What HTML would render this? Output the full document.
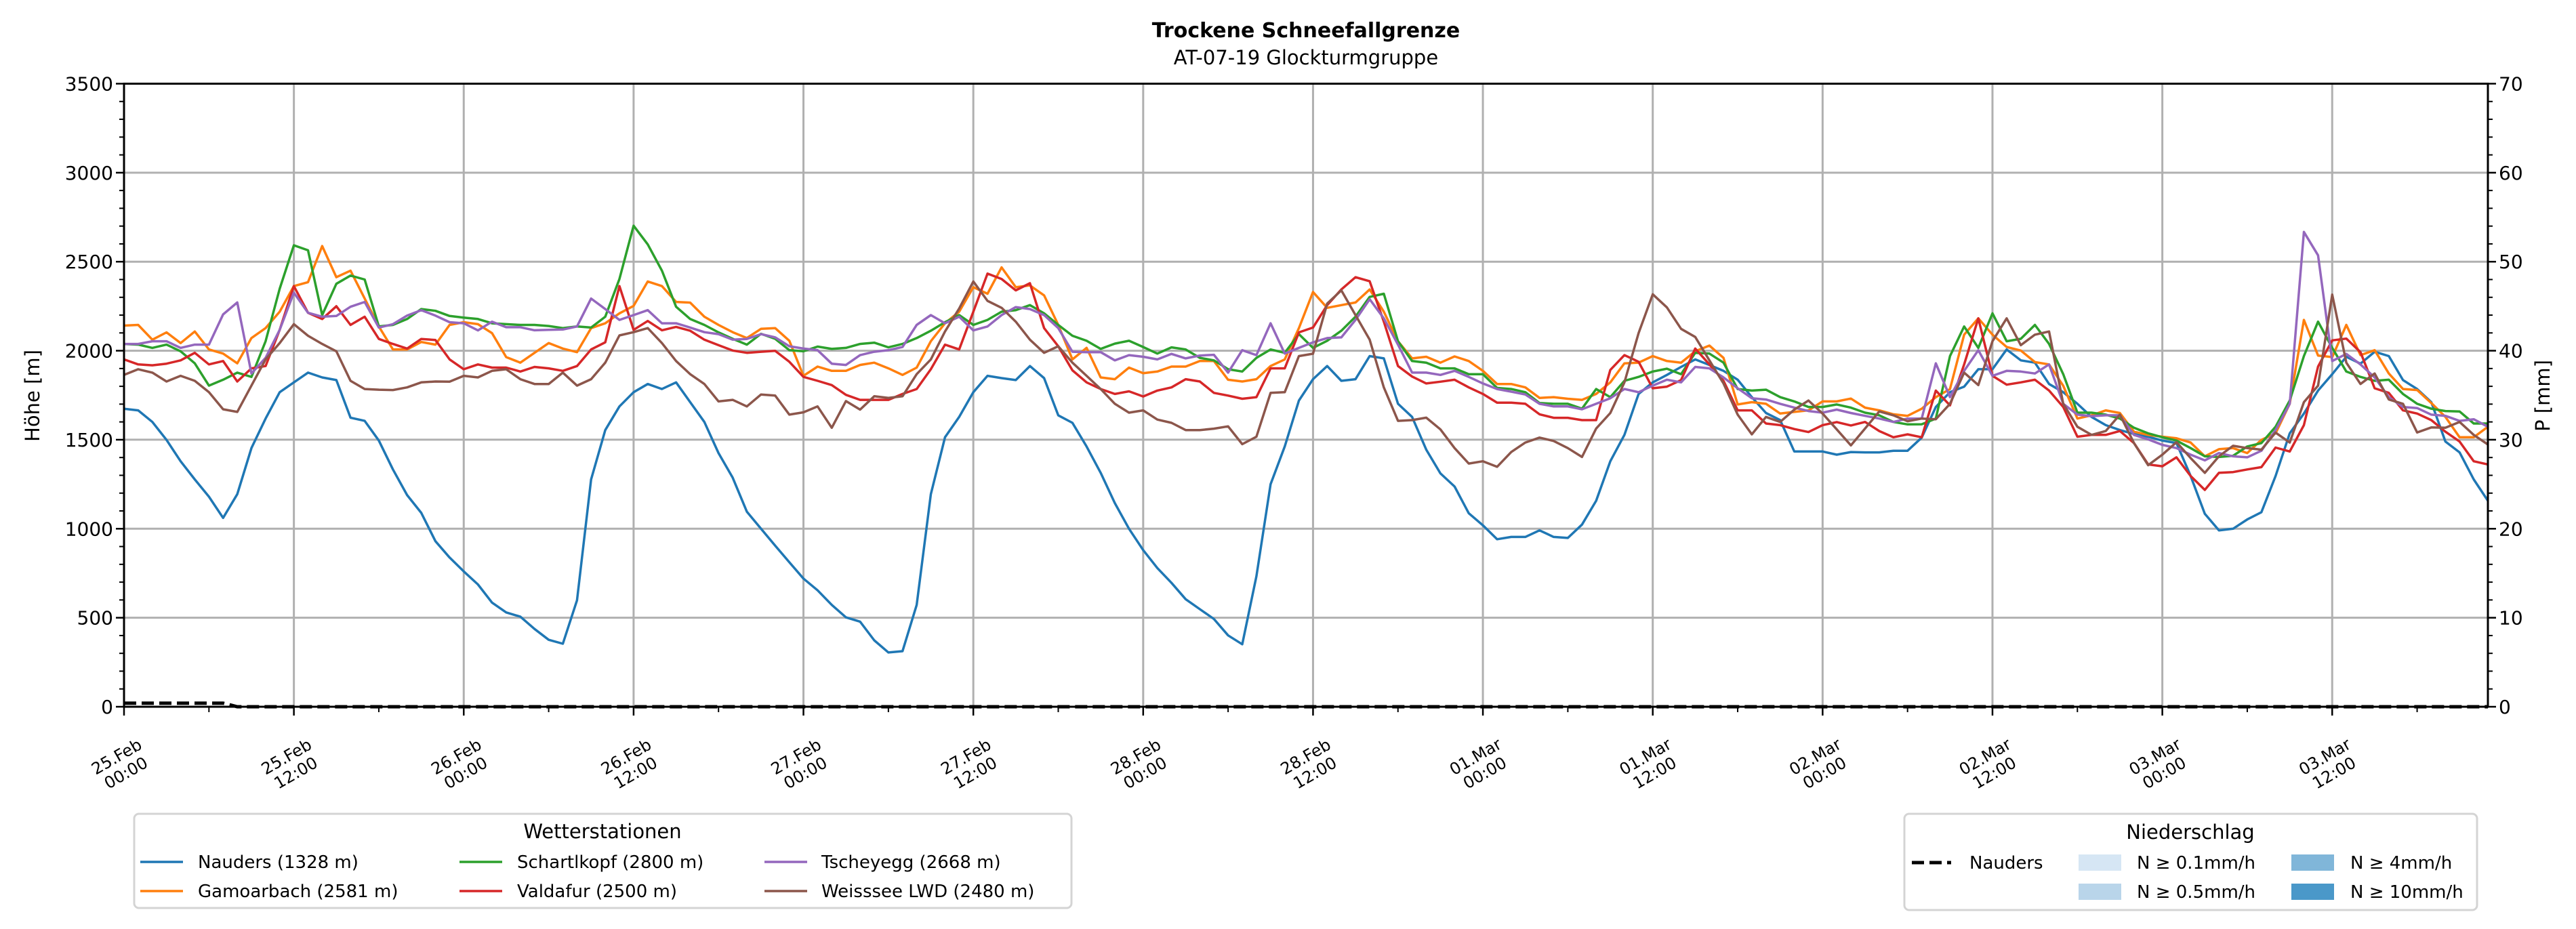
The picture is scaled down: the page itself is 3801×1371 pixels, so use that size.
<!DOCTYPE html>
<html><head><meta charset="utf-8">
<style>
html,body{margin:0;padding:0;background:#fff;}
svg{display:block;font-family:"DejaVu Sans","Liberation Sans",sans-serif;}
</style></head>
<body>
<svg id="chart" width="3801" height="1371" viewBox="0 0 3801 1371" xmlns="http://www.w3.org/2000/svg">
<rect width="3801" height="1371" fill="#fff"/>
<text x="1927" y="55" text-anchor="middle" font-size="30" font-weight="bold">Trockene Schneefallgrenze</text>
<text x="1927" y="95" text-anchor="middle" font-size="29">AT-07-19 Glockturmgruppe</text>
<g id="grid"></g>
<g id="series"></g>
<g id="axes"></g>
<text transform="translate(58,584) rotate(-90)" text-anchor="middle" font-size="29">Höhe [m]</text>
<text transform="translate(3762,584) rotate(-90)" text-anchor="middle" font-size="29">P [mm]</text>

<g>
<rect x="198" y="1201" width="1383" height="139" rx="7" fill="#fff" stroke="#d4d4d4" stroke-width="3"/>
<text x="889" y="1237" text-anchor="middle" font-size="29">Wetterstationen</text>
<g><line x1="207" y1="1272" x2="270" y2="1272" stroke="#1f77b4" stroke-width="3.5"/><text x="292" y="1281" font-size="26">Nauders (1328 m)</text></g>
<g><line x1="207" y1="1315" x2="270" y2="1315" stroke="#ff7f0e" stroke-width="3.5"/><text x="292" y="1324" font-size="26">Gamoarbach (2581 m)</text></g>
<g><line x1="678" y1="1272" x2="741" y2="1272" stroke="#2ca02c" stroke-width="3.5"/><text x="763" y="1281" font-size="26">Schartlkopf (2800 m)</text></g>
<g><line x1="678" y1="1315" x2="741" y2="1315" stroke="#d62728" stroke-width="3.5"/><text x="763" y="1324" font-size="26">Valdafur (2500 m)</text></g>
<g><line x1="1128" y1="1272" x2="1191" y2="1272" stroke="#9467bd" stroke-width="3.5"/><text x="1212" y="1281" font-size="26">Tscheyegg (2668 m)</text></g>
<g><line x1="1128" y1="1315" x2="1191" y2="1315" stroke="#8c564b" stroke-width="3.5"/><text x="1212" y="1324" font-size="26">Weisssee LWD (2480 m)</text></g>
</g>

<g>
<rect x="2810" y="1201" width="845" height="142" rx="7" fill="#fff" stroke="#d4d4d4" stroke-width="3"/>
<text x="3232" y="1238" text-anchor="middle" font-size="29">Niederschlag</text>
<g><line x1="2821" y1="1273" x2="2879" y2="1273" stroke="#000" stroke-width="5" stroke-dasharray="18,8"/><text x="2906" y="1282" font-size="26">Nauders</text></g>
<g><rect x="3067" y="1261" width="63" height="24" fill="#d6e6f4"/><text x="3153" y="1282" font-size="26">N ≥ 0.1mm/h</text></g>
<g><rect x="3067" y="1304" width="63" height="24" fill="#b9d5ea"/><text x="3153" y="1325" font-size="26">N ≥ 0.5mm/h</text></g>
<g><rect x="3381" y="1261" width="63" height="24" fill="#80b6d9"/><text x="3468" y="1282" font-size="26">N ≥ 4mm/h</text></g>
<g><rect x="3381" y="1304" width="63" height="24" fill="#4a98c9"/><text x="3468" y="1325" font-size="26">N ≥ 10mm/h</text></g>
</g>
</svg>
<script>
const xTickLabels = [["25.Feb","00:00"],["25.Feb","12:00"],["26.Feb","00:00"],["26.Feb","12:00"],["27.Feb","00:00"],["27.Feb","12:00"],["28.Feb","00:00"],["28.Feb","12:00"],["01.Mar","00:00"],["01.Mar","12:00"],["02.Mar","00:00"],["02.Mar","12:00"],["03.Mar","00:00"],["03.Mar","12:00"]];
const yTicks = [0,500,1000,1500,2000,2500,3000,3500];
const y2Ticks = [0,10,20,30,40,50,60,70];
const stationNames = ["Nauders","Gamoarbach","Schartlkopf","Valdafur","Tscheyegg","Weisssee LWD"];
const nauders = [1674,1665,1600,1499,1379,1277,1180,1061,1194,1453,1619,1767,1822,1877,1850,1835,1624,1606,1495,1333,1189,1089,930,838,760,687,585,530,506,437,376,354,598,1277,1554,1687,1767,1813,1785,1822,1711,1600,1425,1287,
1096,1000,905,812,720,654,572,502,478,373,305,312,572,1194,1514,1628,1767,1859,1846,1835,1914,1846,1637,1595,1462,1314,1144,1000,880,779,696,604,548,493,401,351,733,1250,1462,1720,1840,1914,
1831,1840,1970,1957,1702,1628,1444,1311,1237,1087,1019,941,954,954,991,954,948,1023,1157,1379,1527,1757,1822,1864,1909,1951,1920,1887,1837,1739,1650,1610,1434,1434,1434,1416,1431,1429,1429,1438,1438,1512,
1684,1767,1798,1896,1896,2007,1946,1933,1813,1767,1702,1628,1582,1554,1532,1517,1495,1481,1296,1084,991,1000,1052,1093,1296,1536,1647,1776,1868,1966,1927,1994,1970,1835,1785,1711,1490,1429,1277,1157];
const gamoarbach = [2141,2145,2062,2103,2043,2108,2007,1984,1929,2071,2127,2219,2363,2385,2588,2413,2450,2293,2136,2007,2007,2049,2034,2145,2160,2149,2099,1964,1933,1988,2043,2012,1992,2127,2154,2210,2252,2389,2363,2274,2270,2191,2145,2104,
2071,2123,2127,2056,1859,1911,1887,1887,1920,1933,1901,1864,1905,2053,2154,2219,2357,2320,2468,2357,2367,2311,2145,1951,2016,1850,1840,1905,1874,1883,1911,1911,1942,1942,1837,1827,1840,1914,1951,2127,2330,2241,
2256,2271,2344,2219,2053,1957,1966,1933,1968,1942,1887,1813,1813,1794,1735,1739,1730,1724,1757,1822,1929,1933,1970,1942,1933,1997,2029,1960,1698,1711,1702,1647,1656,1665,1715,1715,1731,1680,1665,1643,1634,1674,
1739,1785,2090,2182,2090,2021,2001,1936,1923,1803,1619,1637,1665,1650,1545,1527,1517,1508,1484,1407,1447,1453,1425,1499,1536,1702,2173,1973,1964,2145,1975,2003,1872,1785,1779,1706,1628,1514,1514,1573];
const schartlkopf = [2038,2034,2016,2034,1997,1929,1804,1837,1877,1853,2053,2348,2592,2564,2200,2376,2422,2400,2136,2145,2178,2234,2224,2195,2186,2178,2154,2149,2145,2145,2139,2127,2136,2130,2191,2403,2702,2597,2450,2247,2178,2145,2103,2067,
2034,2095,2067,2003,1997,2023,2010,2016,2038,2045,2019,2038,2071,2112,2160,2200,2145,2173,2219,2228,2256,2210,2145,2084,2056,2010,2040,2056,2021,1984,2019,2007,1960,1946,1896,1883,1960,2007,1988,2093,2016,2056,
2112,2191,2302,2320,2053,1942,1933,1901,1901,1868,1868,1791,1785,1767,1706,1702,1702,1674,1785,1739,1831,1853,1883,1899,1868,1988,1984,1933,1785,1776,1781,1739,1715,1684,1684,1698,1680,1652,1637,1600,1586,1587,
1619,1970,2136,2016,2210,2053,2067,2145,2038,1868,1652,1652,1641,1619,1567,1536,1514,1495,1453,1407,1403,1410,1462,1481,1573,1720,1970,2163,2016,1883,1853,1831,1837,1757,1702,1674,1661,1659,1591,1591];
const valdafur = [1951,1923,1918,1927,1946,1988,1923,1942,1827,1901,1914,2117,2363,2213,2178,2250,2145,2191,2066,2038,2012,2066,2060,1951,1896,1923,1905,1905,1883,1909,1901,1887,1914,2007,2047,2363,2117,2167,2115,2134,2112,2062,2031,2001,
1988,1994,1999,1938,1853,1831,1807,1752,1724,1724,1724,1757,1785,1896,2034,2007,2219,2433,2403,2339,2379,2127,2025,1890,1822,1785,1757,1772,1743,1776,1794,1840,1827,1763,1748,1730,1739,1901,1901,2103,2130,2256,
2344,2413,2390,2163,1914,1855,1816,1826,1837,1794,1757,1708,1708,1702,1643,1623,1623,1610,1610,1892,1975,1938,1789,1798,1835,2012,1923,1831,1665,1665,1591,1582,1560,1543,1582,1599,1580,1600,1549,1514,1530,1514,
1776,1693,1923,2182,1859,1809,1822,1837,1776,1684,1517,1527,1527,1549,1481,1361,1351,1401,1296,1218,1314,1318,1333,1346,1456,1434,1582,1911,2058,2068,1992,1789,1763,1665,1647,1610,1545,1490,1379,1361];
const tscheyegg = [2038,2038,2053,2053,2016,2034,2034,2204,2271,1872,1960,2117,2326,2213,2191,2195,2247,2274,2130,2149,2197,2228,2197,2160,2154,2114,2163,2132,2132,2115,2117,2119,2136,2293,2234,2173,2200,2228,2154,2154,2130,2104,2093,2062,
2066,2093,2075,2025,2012,2003,1927,1920,1975,1994,2003,2021,2145,2200,2154,2191,2114,2136,2200,2245,2234,2200,2127,1994,1992,1992,1946,1975,1966,1951,1982,1957,1973,1977,1877,2003,1975,2154,1984,2016,2047,2071,
2075,2173,2289,2182,2034,1877,1877,1864,1887,1853,1816,1785,1770,1754,1702,1687,1687,1671,1702,1733,1785,1767,1804,1837,1822,1909,1901,1850,1789,1733,1726,1702,1680,1661,1652,1669,1650,1634,1619,1600,1619,1619,
1929,1739,1887,2003,1859,1887,1883,1872,1923,1702,1641,1632,1637,1637,1527,1502,1471,1453,1416,1384,1425,1407,1401,1438,1554,1702,2667,2536,1942,1982,1923,1850,1739,1684,1678,1641,1634,1606,1615,1573];
const weisssee = [1864,1896,1877,1827,1859,1831,1767,1671,1656,1804,1951,2043,2149,2084,2038,1997,1831,1785,1781,1779,1794,1822,1827,1826,1859,1850,1887,1896,1840,1813,1813,1877,1804,1840,1933,2086,2104,2127,2043,1942,1868,1813,1715,1724,
1687,1754,1748,1641,1654,1687,1567,1717,1669,1744,1735,1744,1868,1951,2108,2237,2389,2280,2241,2163,2062,1988,2025,1933,1859,1785,1702,1652,1665,1613,1595,1554,1554,1562,1575,1475,1517,1763,1767,1970,1983,2265,
2339,2200,2062,1794,1606,1610,1624,1558,1453,1366,1379,1348,1431,1484,1512,1493,1453,1403,1563,1650,1822,2099,2317,2243,2123,2077,1946,1816,1641,1530,1628,1600,1669,1720,1647,1558,1468,1563,1659,1637,1604,1619,
1615,1702,1877,1807,2053,2182,2031,2090,2108,1702,1573,1527,1549,1641,1481,1357,1416,1486,1397,1314,1407,1466,1453,1444,1540,1484,1711,1804,2315,1933,1813,1872,1726,1702,1541,1569,1567,1600,1527,1473];
const precipNauders = [0.4,0.4,0.4,0.4,0.4,0.4,0.4,0.4,0,0,0,0,0,0,0,0,0,0,0,0,0,0,0,0,0,0,0,0,0,0,0,0,0,0,0,0,0,0,0,0,0,0,0,0,0,0,0,0,0,0,0,0,0,0,0,0,0,0,0,0,0,0,0,0,0,0,0,0,0,0,0,0,0,0,0,0,0,0,0,0,0,0,0,0,0,0,0,0,0,0,0,0,0,0,0,0,0,0,0,0,0,0,0,0,0,0,0,0,0,0,0,0,0,0,0,0,0,0,0,0,0,0,0,0,0,0,0,0,0,0,0,0,0,0,0,0,0,0,0,0,0,0,0,0,0,0,0,0,0,0,0,0,0,0,0,0,0,0,0,0,0,0,0,0,0,0,0,0];

const NS="http://www.w3.org/2000/svg";
const X0=183, X1=3671, Y0=1043, YT=123.5, HMAX=167;
function xS(h){return X0 + h*(X1-X0)/HMAX;}
function yS(v){return Y0 - v*(Y0-YT)/3500;}
function y2S(v){return Y0 - v*(Y0-YT)/70;}
function mk(tag, attrs, parent){const e=document.createElementNS(NS,tag);for(const k in attrs)e.setAttribute(k,attrs[k]);parent.appendChild(e);return e;}
const grid=document.getElementById('grid'), axes=document.getElementById('axes'), ser=document.getElementById('series');

yTicks.forEach(function(v){
  const g=mk('line',{x1:X0,x2:X1,y1:yS(v),y2:yS(v),stroke:'#b0b0b0','stroke-width':3},grid);
  
  
  const t=mk('line',{x1:X0-12,x2:X0,y1:yS(v),y2:yS(v),stroke:'#000','stroke-width':2.5},axes);
  
  
  const l=mk('text',{x:X0-16,y:yS(v)+10,'text-anchor':'end','font-size':28},axes);
  l.textContent=String(v);
  
  
});
for(let v=0; v<=3500; v+=100){ if(v%500===0) continue;
  const t=mk('line',{x1:X0-7,x2:X0,y1:yS(v),y2:yS(v),stroke:'#000','stroke-width':2},axes);
  
  
}
y2Ticks.forEach(function(v){
  const t=mk('line',{x1:X1,x2:X1+12,y1:y2S(v),y2:y2S(v),stroke:'#000','stroke-width':2.5},axes);
  
  
  const l=mk('text',{x:X1+16,y:y2S(v)+10,'text-anchor':'start','font-size':28},axes);
  l.textContent=String(v);
  
  
});
for(let v=0; v<=70; v+=2){ if(v%10===0) continue;
  const t=mk('line',{x1:X1,x2:X1+7,y1:y2S(v),y2:y2S(v),stroke:'#000','stroke-width':2},axes);
  
  
}
xTickLabels.forEach(function(lab,i){
  const x=xS(i*12);
  const g=mk('line',{x1:x,x2:x,y1:YT,y2:Y0,stroke:'#b0b0b0','stroke-width':3},grid);
  
  
  const t=mk('line',{x1:x,x2:x,y1:Y0,y2:Y0+13,stroke:'#000','stroke-width':2.5},axes);
  
  
  const tx=mk('text',{transform:'translate('+(x-5)+',1127) rotate(-30)','text-anchor':'middle','font-size':24},axes);
  
  
  const a=mk('tspan',{x:0,dy:'-0.15em'},tx); a.textContent=lab[0];
  const b=mk('tspan',{x:0,dy:'1.15em'},tx); b.textContent=lab[1];
});
for(let h=6; h<=HMAX; h+=12){
  const t=mk('line',{x1:xS(h),x2:xS(h),y1:Y0,y2:Y0+8,stroke:'#000','stroke-width':2},axes);
  
  
}
const seriesList=[[nauders,'#1f77b4','line-nauders'],[gamoarbach,'#ff7f0e','line-gamoarbach'],[schartlkopf,'#2ca02c','line-schartlkopf'],[valdafur,'#d62728','line-valdafur'],[tscheyegg,'#9467bd','line-tscheyegg'],[weisssee,'#8c564b','line-weisssee']];
seriesList.forEach(function(s){
  const pts=s[0].map(function(v,i){return xS(i).toFixed(1)+','+yS(v).toFixed(1);}).join(' ');
  const p=mk('polyline',{points:pts,fill:'none',stroke:s[1],'stroke-width':3.5,'stroke-linejoin':'round'},ser);
  
  
});
const pp=precipNauders.map(function(v,i){return xS(i).toFixed(1)+','+y2S(v).toFixed(1);}).join(' ');
const pl=mk('polyline',{points:pp,fill:'none',stroke:'#000','stroke-width':5,'stroke-dasharray':'18,8'},ser);


const fr=mk('rect',{x:X0,y:YT,width:X1-X0,height:Y0-YT,fill:'none',stroke:'#000','stroke-width':3},axes);


</script>
</body></html>
